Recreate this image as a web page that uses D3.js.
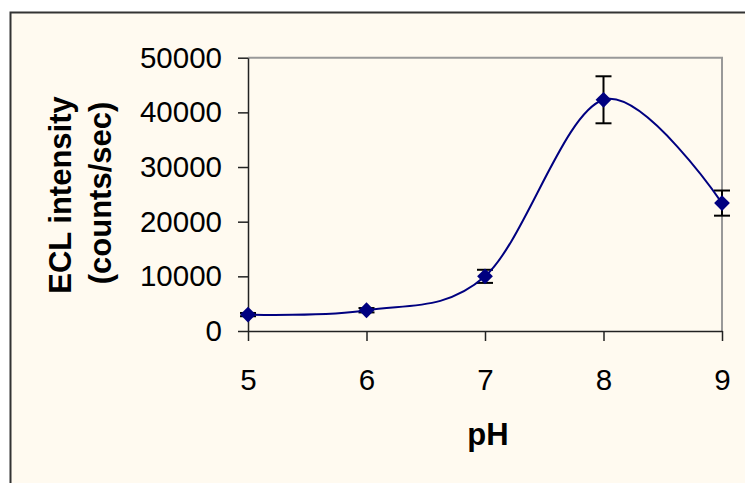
<html>
<script src='https://d3js.org/d3.v7.min.js'></script>
<style>
  body {margin: 0; background: white;}
  text {font-family: 'Liberation Sans', Arial, sans-serif;}
</style>
<body>
<svg width=745 height=483></svg>
<script>
// values
const ph = [5, 6, 7, 8, 9];
const intensity = [3000, 3800, 10000, 42300, 23400];
const errs = [300, 400, 1200, 4300, 2300];
const yTicks = [0, 10000, 20000, 30000, 40000, 50000];
const xTicks = [5, 6, 7, 8, 9];

var svg = d3.select('svg');

// chart area
svg.append('rect')
  .attr('x', 10.5).attr('y', 12.5)
  .attr('width', 800).attr('height', 500)
  .attr('fill', '#fffaf0')
  .attr('stroke', '#333').attr('stroke-width', 2);

var x = d3.scaleLinear().domain([5, 9]).range([248, 722]);
var y = d3.scaleLinear().domain([0, 50000]).range([331, 57.7]);

// grey plot area border (top, right)
svg.append('path')
  .attr('d', 'M' + x(5) + ',' + y(50000) + 'H' + x(9) + 'V' + y(0))
  .attr('fill', 'none')
  .attr('stroke', '#999')
  .attr('stroke-width', 2);

var yAxis = svg.append('g')
  .attr('transform', 'translate(' + x(5) + ',0)')
  .call(d3.axisLeft(y).tickValues(yTicks).tickSize(10).tickSizeOuter(0).tickPadding(16).tickFormat(d3.format('d')));

var xAxis = svg.append('g')
  .attr('transform', 'translate(0,' + y(0) + ')')
  .call(d3.axisBottom(x).tickValues(xTicks).tickSize(10).tickSizeOuter(0).tickPadding(28).tickFormat(d3.format('d')));

[yAxis, xAxis].forEach(function(a) {
  a.selectAll('path, line').attr('stroke', '#222').attr('stroke-width', 1.5);
  a.selectAll('text').attr('font-size', 29.5).attr('fill', '#000')
    .style('font-family', "'Liberation Sans', Arial, sans-serif");
});

// axis titles
svg.append('text')
  .attr('transform', 'translate(71,195) rotate(-90)')
  .attr('text-anchor', 'middle')
  .attr('font-size', 31).attr('font-weight', 'bold')
  .text('ECL intensity');
svg.append('text')
  .attr('transform', 'translate(111,193) rotate(-90)')
  .attr('text-anchor', 'middle')
  .attr('font-size', 31).attr('font-weight', 'bold')
  .text('(counts/sec)');
svg.append('text')
  .attr('x', x(7) + 3).attr('y', 445)
  .attr('text-anchor', 'middle')
  .attr('font-size', 31).attr('font-weight', 'bold')
  .text('pH');

var pts = ph.map(function(d, i) { return {x: d, y: intensity[i], e: errs[i]}; });

// error bars
var eb = svg.append('g').attr('stroke', '#000').attr('stroke-width', 2);
pts.forEach(function(p) {
  var cx = x(p.x), y1 = y(p.y + p.e), y2 = y(p.y - p.e);
  eb.append('line').attr('x1', cx).attr('x2', cx).attr('y1', y1).attr('y2', y2);
  eb.append('line').attr('x1', cx - 8).attr('x2', cx + 8).attr('y1', y1).attr('y2', y1);
  eb.append('line').attr('x1', cx - 8).attr('x2', cx + 8).attr('y1', y2).attr('y2', y2);
});

// smoothed line
var line = d3.line()
  .x(function(d) { return x(d.x); })
  .y(function(d) { return y(d.y); })
  .curve(d3.curveCardinal.tension(0));
svg.append('path')
  .datum(pts)
  .attr('fill', 'none')
  .attr('stroke', '#000080')
  .attr('stroke-width', 2)
  .attr('d', line);

// diamond markers
svg.append('g')
  .selectAll('path')
  .data(pts)
  .enter()
  .append('path')
  .attr('d', d3.symbol().type(d3.symbolSquare).size(125))
  .attr('transform', function(d) { return 'translate(' + x(d.x) + ',' + y(d.y) + ') rotate(45)'; })
  .attr('fill', '#000080');
</script>
</body>
</html>
